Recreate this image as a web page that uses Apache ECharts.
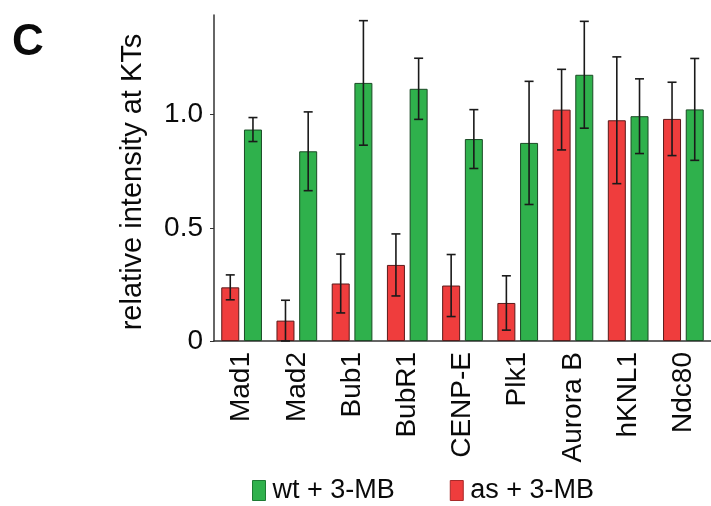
<!DOCTYPE html>
<html>
<head>
<meta charset="utf-8">
<script src="https://cdn.jsdelivr.net/npm/echarts@6/dist/echarts.min.js"></script>
<style>html,body{margin:0;padding:0;background:#fff;}#c{width:711px;height:506px;}</style>
</head>
<body>
<div id="c"></div>
<script>
var categories = ['Mad1', 'Mad2', 'Bub1', 'BubR1', 'CENP-E', 'Plk1', 'Aurora B', 'hKNL1', 'Ndc80'];
var asValues = [0.237, 0.090, 0.254, 0.336, 0.245, 0.168, 1.022, 0.975, 0.981];
var asErrors = [0.055, 0.090, 0.130, 0.137, 0.137, 0.120, 0.178, 0.280, 0.162];
var wtValues = [0.934, 0.838, 1.140, 1.114, 0.892, 0.875, 1.176, 0.993, 1.023];
var wtErrors = [0.053, 0.174, 0.275, 0.135, 0.130, 0.272, 0.236, 0.165, 0.225];
var yTicks = [0, 0.5, 1.0];
var yTickLabels = ['0', '0.5', '1.0'];

var FONT = 'Liberation Sans, Arial, Helvetica, sans-serif';
var BAR_W = 18, BAR_GAP = 4.7;

function errorSeries(name, values, errors, side) {
  var data = values.map(function (v, i) { return [i, v - errors[i], v + errors[i]]; });
  return {
    type: 'custom',
    name: name + ' err',
    z: 10,
    silent: true,
    renderItem: function (params, api) {
      var idx = api.value(0);
      var lo = api.coord([idx, api.value(1)]);
      var hi = api.coord([idx, api.value(2)]);
      var x = lo[0] + side * (BAR_W + BAR_GAP) / 2;
      var cap = 4.5;
      var style = { stroke: '#1a1a1a', lineWidth: 1.6 };
      return {
        type: 'group',
        children: [
          { type: 'line', shape: { x1: x, y1: lo[1], x2: x, y2: hi[1] }, style: style },
          { type: 'line', shape: { x1: x - cap, y1: lo[1], x2: x + cap, y2: lo[1] }, style: style },
          { type: 'line', shape: { x1: x - cap, y1: hi[1], x2: x + cap, y2: hi[1] }, style: style }
        ]
      };
    },
    data: data
  };
}

var chart = echarts.init(document.getElementById('c'), null, { renderer: 'canvas' });
chart.setOption({
  animation: false,
  backgroundColor: '#ffffff',
  grid: { left: 214, top: 15, bottom: 165, right: -3, containLabel: false },
  legend: {
    data: [
      { name: 'wt + 3-MB', icon: 'rect', itemStyle: { color: '#2fb14c', borderColor: '#1d7a33', borderWidth: 1 } },
      { name: 'as + 3-MB', icon: 'rect', itemStyle: { color: '#ef3d3d', borderColor: '#a82a2a', borderWidth: 1 } }
    ],
    left: 252,
    top: 477,
    padding: 0,
    itemWidth: 13,
    itemHeight: 20,
    itemGap: 55,
    textStyle: { fontFamily: FONT, fontSize: 27, color: '#0a0a0a', padding: [0, 0, 0, 2] },
    selectedMode: false
  },
  graphic: [
    { type: 'text', left: 12, top: 21, style: { text: 'C', font: 'bold 44px ' + FONT, fill: '#0a0a0a' } },
    {
      type: 'text', x: 133, y: 182, rotation: Math.PI / 2,
      style: { text: 'relative intensity at KTs', font: '29px ' + FONT, fill: '#0a0a0a', align: 'center', verticalAlign: 'middle' }
    }
  ],
  xAxis: {
    type: 'category',
    data: categories,
    axisLine: { lineStyle: { color: '#333', width: 1.5 } },
    axisTick: { alignWithLabel: true, length: 4, lineStyle: { color: '#333' } },
    axisLabel: { rotate: 90, margin: 11, fontFamily: FONT, fontSize: 28, color: '#0a0a0a', interval: 0 }
  },
  yAxis: {
    type: 'value',
    min: 0,
    max: 1.44,
    interval: 0.5,
    splitLine: { show: false },
    axisLine: { show: true, lineStyle: { color: '#333', width: 1.5 } },
    axisTick: { show: true, length: 4, lineStyle: { color: '#333' }, customValues: yTicks },
    axisLabel: {
      customValues: yTicks,
      margin: 11,
      fontFamily: FONT, fontSize: 28, color: '#0a0a0a',
      formatter: function (v) { var i = yTicks.indexOf(v); return i >= 0 ? yTickLabels[i] : ''; }
    }
  },
  series: [
    {
      type: 'bar', name: 'as + 3-MB', data: asValues, barWidth: BAR_W, barGap: (BAR_GAP / BAR_W * 100) + '%',
      itemStyle: { color: '#ef3d3d', borderColor: '#5a1a1a', borderWidth: 1 }
    },
    {
      type: 'bar', name: 'wt + 3-MB', data: wtValues, barWidth: BAR_W,
      itemStyle: { color: '#2fb14c', borderColor: '#1a4a25', borderWidth: 1 }
    },
    errorSeries('as', asValues, asErrors, -1),
    errorSeries('wt', wtValues, wtErrors, 1)
  ]
});
</script>
</body>
</html>
